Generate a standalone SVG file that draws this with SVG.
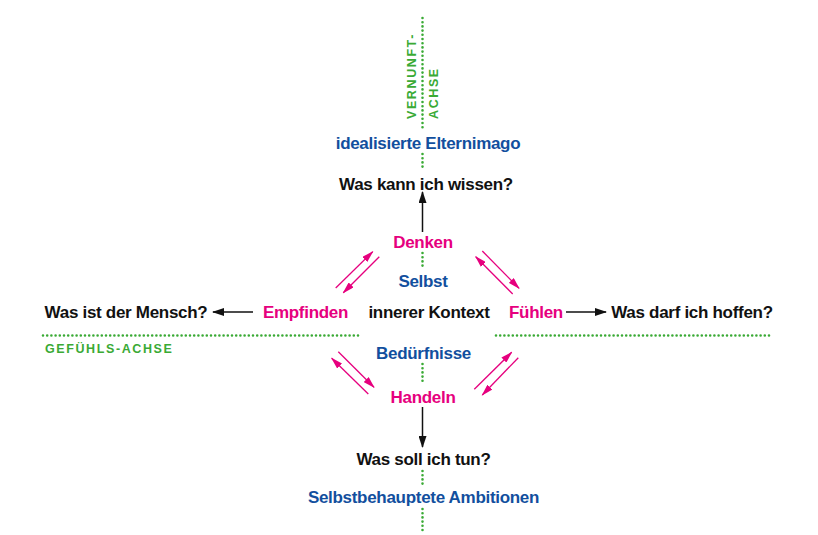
<svg xmlns="http://www.w3.org/2000/svg" width="818" height="535" viewBox="0 0 818 535">
<defs>
<style>
text{font-family:"Liberation Sans",Arial,sans-serif;font-weight:bold;font-size:17px;letter-spacing:-0.3px;text-anchor:middle}
.k{fill:#111}
.m{fill:#e6007e}
.b{fill:#124f9e}
.g{fill:#3aaa35;font-size:12.5px;letter-spacing:1.6px;text-anchor:start}
.dot{stroke:#3aaa35;stroke-width:2.6;stroke-linecap:round;stroke-dasharray:0 4.2;fill:none}
.ka{stroke:#111;stroke-width:1.5;fill:none;marker-end:url(#ah)}
.ma{stroke:#e6007e;stroke-width:1.3;fill:none;marker-end:url(#mh)}
</style>
<marker id="ah" viewBox="0 0 12 8" refX="11" refY="4" markerWidth="12" markerHeight="8" markerUnits="userSpaceOnUse" orient="auto"><path d="M0,0 L12,4 L0,8 Z" fill="#111"/></marker>
<marker id="mh" viewBox="0 0 12 7" refX="11" refY="3.5" markerWidth="12" markerHeight="7" markerUnits="userSpaceOnUse" orient="auto"><path d="M0,0 L12,3.5 L0,7 Z" fill="#e6007e"/></marker>
</defs>
<rect width="818" height="535" fill="#fff"/>
<g id="axes">
<path class="dot" d="M422.5,18 V131"/>
<path class="dot" d="M422.5,154 V167"/>
<path class="dot" d="M422.5,253 V266"/>
<path class="dot" d="M422.5,364 V381"/>
<path class="dot" d="M422.5,471 V485"/>
<path class="dot" d="M422.5,509 V531"/>
<path class="dot" d="M43,335.5 H360"/>
<path class="dot" d="M496,335.5 H770"/>
<text class="g" transform="translate(416,119) rotate(-90)">VERNUNFT-</text>
<text class="g" transform="translate(438,119) rotate(-90)">ACHSE</text>
<text class="g" x="45" y="353">GEFÜHLS-ACHSE</text>
</g>
<g id="connectors">
<path class="ka" d="M422.5,232 V192"/>
<path class="ka" d="M422.5,407 V447"/>
<path class="ka" d="M253,312 H213"/>
<path class="ka" d="M566,312 H606"/>
<path class="ma" d="M335.7,288 L372.7,251.7"/>
<path class="ma" d="M379.3,256.7 L343.3,292.7"/>
<path class="ma" d="M482.3,251 L519,288.3"/>
<path class="ma" d="M512.7,294 L475.7,256.7"/>
<path class="ma" d="M338.3,351.7 L374,387.3"/>
<path class="ma" d="M368.3,394 L331.7,358.3"/>
<path class="ma" d="M474.3,389.3 L511.7,352.3"/>
<path class="ma" d="M518.3,357.7 L482.3,395"/>
</g>
<g id="n-elternimago"><text class="b" x="428" y="149">idealisierte Elternimago</text></g>
<g id="n-wissen"><text class="k" x="426" y="190">Was kann ich wissen?</text></g>
<g id="n-denken"><text class="m" x="423" y="248">Denken</text></g>
<g id="n-selbst"><text class="b" x="423" y="287">Selbst</text></g>
<g id="n-mensch"><text class="k" x="126" y="318">Was ist der Mensch?</text></g>
<g id="n-empfinden"><text class="m" x="305.5" y="318">Empfinden</text></g>
<g id="n-kontext"><text class="k" x="429" y="318">innerer Kontext</text></g>
<g id="n-fuehlen"><text class="m" x="536" y="318">Fühlen</text></g>
<g id="n-hoffen"><text class="k" x="692" y="318">Was darf ich hoffen?</text></g>
<g id="n-beduerfnisse"><text class="b" x="423.5" y="359">Bedürfnisse</text></g>
<g id="n-handeln"><text class="m" x="423" y="403">Handeln</text></g>
<g id="n-tun"><text class="k" x="423.5" y="465">Was soll ich tun?</text></g>
<g id="n-ambitionen"><text class="b" x="423.5" y="503">Selbstbehauptete Ambitionen</text></g>
</svg>
